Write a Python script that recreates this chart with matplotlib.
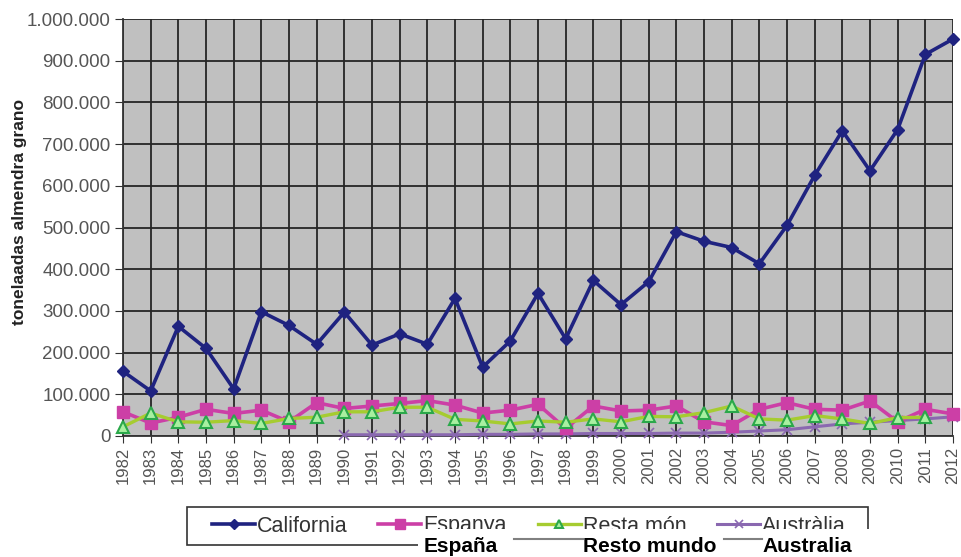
import numpy as np
import matplotlib.pyplot as plt
from matplotlib.patches import Rectangle
from matplotlib.lines import Line2D
from matplotlib.ticker import FuncFormatter

plt.rcParams['font.family'] = ['Liberation Sans', 'DejaVu Sans']

# Production of shelled almond (t), 1982-2012
years = list(range(1982, 2013))

california = [155000, 108000, 263000, 210000, 113000, 298000, 265000, 220000,
              297000, 218000, 245000, 220000, 330000, 165000, 228000, 342000,
              233000, 373000, 315000, 370000, 490000, 467000, 452000, 413000,
              505000, 625000, 732000, 636000, 735000, 915000, 952000]

espanya = [58000, 31000, 45000, 64000, 54000, 62000, 34000, 80000,
           66000, 72000, 78000, 85000, 74000, 55000, 62000, 76000,
           18000, 72000, 60000, 62000, 72000, 34000, 25000, 64000,
           80000, 64000, 62000, 84000, 34000, 64000, 53000]

resta_mon = [22000, 55000, 34000, 33000, 37000, 30000, 42000, 45000,
             58000, 58000, 69000, 69000, 40000, 36000, 29000, 36000,
             33000, 41000, 34000, 47000, 46000, 56000, 72000, 41000,
             38000, 49000, 41000, 30000, 44000, 45000]

australia_years = list(range(1990, 2013))
australia = [3000, 3000, 3000, 3000, 3000, 4000, 4000, 5000, 5000, 6000,
             6000, 6000, 7000, 7000, 9000, 12000, 15000, 22000, 29000,
             33000, 37000, 41000, 46000]

legend_labels = ['California', 'Espanya', 'Resta món', 'Austràlia']
overlay_labels = ['España', 'Resto mundo', 'Australia']

W, H = 961, 557
fig = plt.figure(figsize=(W / 100, H / 100), dpi=100)
fig.patch.set_facecolor('white')

ax = fig.add_axes([123 / W, 1 - 436 / H, (953 - 123) / W, (436 - 19) / H])
ax.set_facecolor('#c0c0c0')

ax.plot(years, california, color='#1f2380', lw=2.6, marker='D', ms=6,
        clip_on=False, zorder=6, label=legend_labels[0])
ax.plot(years, espanya, color='#cc3fa6', lw=2.6, marker='s', ms=9,
        clip_on=False, zorder=4, label=legend_labels[1])
ax.plot(years[:len(resta_mon)], resta_mon, color='#a6cc30', lw=2.4, marker='^',
        ms=8, mfc='#a8f0a0', mec='#2aa84a', mew=1.5, clip_on=False, zorder=5,
        label=legend_labels[2])
ax.plot(australia_years, australia, color='#8a68b0', lw=2.2, marker='x', ms=7,
        mew=1.2, clip_on=False, zorder=3, label=legend_labels[3])

ax.set_xlim(1982, 2012)
ax.set_ylim(0, 1000000)
ax.set_xticks(years)
ax.set_xticklabels([str(y) for y in years], rotation=90, fontsize=12,
                   color='#555555')
ax.set_yticks(np.arange(0, 1000001, 100000))
ax.yaxis.set_major_formatter(FuncFormatter(lambda v, p: f'{int(v):,}'.replace(',', '.')))
ax.tick_params(axis='y', labelsize=13.5, labelcolor='#555555', length=6,
               color='#333333', pad=3)
ax.tick_params(axis='x', length=5, color='#333333', pad=3)

ax.grid(True, color='#262626', lw=1.3)
ax.set_axisbelow(True)
for side in ['top', 'right']:
    ax.spines[side].set_visible(False)
ax.spines['left'].set_color('#333333')
ax.spines['bottom'].set_color('#333333')
ax.spines['left'].set_linewidth(1.3)
ax.spines['bottom'].set_linewidth(1.3)

ax.set_ylabel('tonelaadas almendra grano', fontsize=12.5, fontweight='bold',
              color='#222222')
ax.yaxis.set_label_coords((27 - 123) / 830, (436 - 212) / 417)

# legend box drawn by hand, entries spread inside it
fig.add_artist(Rectangle((187 / W, 1 - 545 / H), 681 / W, 38 / H,
                         transform=fig.transFigure, fill=False,
                         edgecolor='#333333', lw=1.2, zorder=8))
handles, labels = ax.get_legend_handles_labels()
leg = fig.legend(handles, labels, loc='center', ncol=4, mode='expand',
                 bbox_to_anchor=(212 / W, 1 - 545 / H, (846 - 212) / W, 38 / H),
                 frameon=False, fontsize=15.5, handlelength=2.0,
                 handletextpad=0.1, borderpad=0.0, borderaxespad=0.0,
                 markerscale=0.8)
for t in leg.get_texts():
    t.set_color('#333333')

# Spanish labels pasted over the lower half of the legend
fig.add_artist(Rectangle((418 / W, 0), 1 - 418 / W, 1 - 529 / H,
                         transform=fig.transFigure, facecolor='white',
                         edgecolor='none', zorder=10))
fig.canvas.draw()
renderer = fig.canvas.get_renderer()
inv = fig.transFigure.inverted()
xs = [inv.transform(t.get_window_extent(renderer))[0][0] for t in leg.get_texts()[1:]]
gaps = [16, 8]
prev_end = None
for i, (x0, lab) in enumerate(zip(xs, overlay_labels)):
    txt = fig.text(x0, 1 - 552 / H, lab, fontsize=15, fontweight='bold',
                   color='black', ha='left', va='baseline', zorder=11)
    if prev_end is not None:
        fig.add_artist(Line2D([prev_end + gaps[i - 1] / W, x0], [1 - 539 / H] * 2,
                              transform=fig.transFigure, color='#808080',
                              lw=1.5, zorder=11))
    bb = inv.transform(txt.get_window_extent(renderer))
    prev_end = bb[1][0]

fig.savefig('out.png', dpi=100)
